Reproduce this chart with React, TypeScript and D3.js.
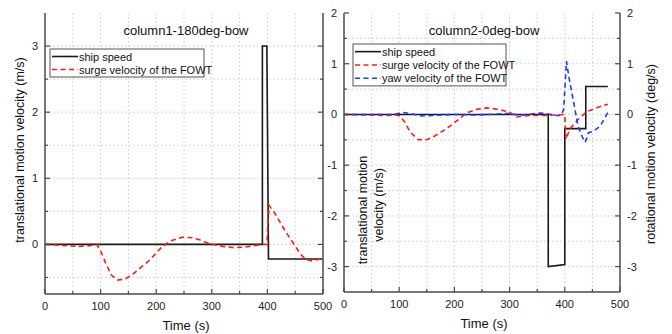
import React from 'react';
import * as d3 from 'd3';

// time axis
const timeMajor = [0, 100, 200, 300, 400, 500];
const timeMinor = [50, 150, 250, 350, 450];

// column1-180deg-bow
const leftShipT = [0, 391, 391, 399, 402, 500];
const leftShipV = [0, 0, 3, 3, -0.22, -0.22];
const leftSurgeT = [0, 20, 40, 60, 80, 93, 100, 110, 120, 131, 145, 158, 175, 188, 200, 209, 225, 248, 265, 278, 290, 302, 320, 340, 360, 375, 390, 399, 403, 415, 428, 440, 452, 462, 470, 480, 490, 500];
const leftSurgeV = [0, -0.01, -0.02, -0.03, -0.02, 0, -0.1, -0.3, -0.47, -0.54, -0.52, -0.45, -0.33, -0.24, -0.13, -0.05, 0.05, 0.11, 0.1, 0.07, 0.03, 0, -0.03, -0.05, -0.04, -0.02, 0, 0, 0.59, 0.45, 0.26, 0.1, -0.05, -0.17, -0.23, -0.25, -0.23, -0.2];
const leftMajor = [0, 1, 2, 3];
const leftMinor = [-0.5, 0.5, 1.5, 2.5, 3.5];

// column2-0deg-bow
const rightShipT = [0, 370, 370, 400, 400, 438, 438, 478];
const rightShipV = [0, 0, -3, -2.96, -0.28, -0.28, 0.55, 0.55];
const rightSurgeT = [0, 40, 80, 95, 101, 110, 120, 135, 150, 165, 180, 192, 205, 222, 240, 258, 280, 301, 313, 325, 336, 350, 363, 380, 397, 400, 402, 409, 416, 424, 432, 440, 450, 458, 468, 478];
const rightSurgeV = [0, -0.01, -0.02, -0.01, -0.03, -0.15, -0.35, -0.5, -0.5, -0.42, -0.32, -0.23, -0.12, 0.03, 0.1, 0.13, 0.1, 0.04, -0.05, -0.03, -0.02, -0.02, -0.02, -0.01, 0, 0, -0.49, -0.29, -0.2, -0.1, -0.02, 0.06, 0.1, 0.13, 0.17, 0.2];
const rightYawT = [0, 50, 90, 106, 120, 140, 160, 200, 240, 280, 300, 320, 340, 355, 370, 385, 393, 398, 403, 408, 415, 424, 432, 437, 443, 452, 464, 471, 479];
const rightYawV = [0, 0, 0, 0.04, 0.02, -0.03, -0.02, 0, -0.01, 0.01, 0.02, -0.02, 0.01, 0.03, 0.01, -0.02, -0.02, 0.1, 1.05, 0.7, 0.3, -0.23, -0.45, -0.55, -0.36, -0.33, -0.23, -0.1, 0.06];
const rightMajor = [-3, -2, -1, 0, 1, 2];
const rightMinor = [-3.5, -2.5, -1.5, -0.5, 0.5, 1.5];

const FONT = '"Liberation Sans", Arial, sans-serif';
const AXIS = '#4a4a4a';
const GRID = '#d8d8d8';

type Series = { t: number[]; v: number[]; color: string; dash?: string; label: string };

interface PanelProps {
  left: number;
  right: number;
  top: number;
  bottom: number;
  domain: [number, number];
  major: number[];
  minor: number[];
  rightLabels: boolean;
  title: string;
  series: Series[];
  legend: { x: number; y: number; w: number; row: number };
}

const toPts = (t: number[], v: number[]) => t.map((d, i) => [d, v[i]] as [number, number]);

const Panel: React.FC<PanelProps> = ({ left, right, top, bottom, domain, major, minor, rightLabels, title, series, legend }) => {
  const x = d3.scaleLinear().domain([0, 500]).range([left, right]);
  const y = d3.scaleLinear().domain(domain).range([bottom, top]);
  const line = d3.line<[number, number]>().x(d => x(d[0])).y(d => y(d[1]));
  const gridY = [...major, ...minor].filter(v => v > domain[0] && v < domain[1]);

  return (
    <g>
      {/* grid */}
      {[...timeMajor, ...timeMinor].filter(t => t > 0 && t < 500).map(t => (
        <line key={'gx' + t} x1={x(t)} x2={x(t)} y1={top} y2={bottom} stroke={GRID} strokeDasharray="2,2" />
      ))}
      {gridY.map(v => (
        <line key={'gy' + v} x1={left} x2={right} y1={y(v)} y2={y(v)} stroke={GRID} strokeDasharray="2,2" />
      ))}

      {/* data */}
      {series.map(s => (
        <path key={s.label} d={line(toPts(s.t, s.v)) ?? ''} fill="none" stroke={s.color}
          strokeWidth={1.6} strokeDasharray={s.dash} />
      ))}

      {/* axes */}
      <line x1={left} x2={left} y1={top} y2={bottom} stroke={AXIS} strokeWidth={1.5} />
      <line x1={right} x2={right} y1={top} y2={bottom} stroke={AXIS} strokeWidth={1.5} />
      <line x1={left} x2={right} y1={bottom} y2={bottom} stroke={AXIS} strokeWidth={1.5} />

      {timeMajor.map(t => (
        <g key={'tx' + t}>
          <line x1={x(t)} x2={x(t)} y1={bottom} y2={bottom - 5} stroke={AXIS} strokeWidth={1.2} />
          <text x={x(t)} y={bottom + 16} textAnchor="middle" fontSize={11} fill="#222">{t}</text>
        </g>
      ))}
      {timeMinor.map(t => (
        <line key={'tm' + t} x1={x(t)} x2={x(t)} y1={bottom} y2={bottom - 3} stroke={AXIS} strokeWidth={1.2} />
      ))}

      {major.map(v => (
        <g key={'ty' + v}>
          <line x1={left} x2={left + 5} y1={y(v)} y2={y(v)} stroke={AXIS} strokeWidth={1.2} />
          <line x1={right} x2={right - 5} y1={y(v)} y2={y(v)} stroke={AXIS} strokeWidth={1.2} />
          <text x={left - 7} y={y(v) + 4} textAnchor="end" fontSize={11} fill="#222">{v}</text>
          {rightLabels && (
            <text x={right + 7} y={y(v) + 4} textAnchor="start" fontSize={11} fill="#222">{v}</text>
          )}
        </g>
      ))}
      {minor.filter(v => v > domain[0] && v < domain[1]).map(v => (
        <g key={'my' + v}>
          <line x1={left} x2={left + 3} y1={y(v)} y2={y(v)} stroke={AXIS} strokeWidth={1.2} />
          <line x1={right} x2={right - 3} y1={y(v)} y2={y(v)} stroke={AXIS} strokeWidth={1.2} />
        </g>
      ))}

      <text x={(left + right) / 2 + 2} y={top + 22} textAnchor="middle" fontSize={13} fill="#111">{title}</text>
      <text x={(left + right) / 2 + 2} y={bottom + 36} textAnchor="middle" fontSize={13} fill="#111">Time (s)</text>

      {/* legend */}
      <rect x={legend.x} y={legend.y} width={legend.w} height={series.length * legend.row + 2}
        fill="white" stroke="#555" strokeWidth={1} />
      {series.map((s, i) => {
        const ly = legend.y + legend.row * i + legend.row / 2 + 1;
        return (
          <g key={'lg' + s.label}>
            <line x1={legend.x + 2} x2={legend.x + 28} y1={ly} y2={ly} stroke={s.color}
              strokeWidth={1.6} strokeDasharray={s.dash} />
            <text x={legend.x + 29} y={ly + 4} fontSize={11} fill="#111">{s.label}</text>
          </g>
        );
      })}
    </g>
  );
};

export default function App() {
  return (
    <svg width={672} height={334} style={{ position: 'absolute', left: 0, top: 0, background: 'white' }}
      fontFamily={FONT}>
      <rect width={672} height={334} fill="white" />
      <Panel left={45} right={323} top={13} bottom={294} domain={[-0.75, 3.5]}
        major={leftMajor} minor={leftMinor} rightLabels={false} title="column1-180deg-bow"
        legend={{ x: 50, y: 49, w: 154, row: 13 }}
        series={[
          { t: leftShipT, v: leftShipV, color: '#1a1a1a', label: 'ship speed' },
          { t: leftSurgeT, v: leftSurgeV, color: '#ff1a1a', dash: '5,3.5', label: 'surge velocity of the FOWT' },
        ]} />
      <Panel left={344} right={620} top={13} bottom={292} domain={[-3.5, 2]}
        major={rightMajor} minor={rightMinor} rightLabels={true} title="column2-0deg-bow"
        legend={{ x: 353, y: 44, w: 153, row: 13.3 }}
        series={[
          { t: rightShipT, v: rightShipV, color: '#1a1a1a', label: 'ship speed' },
          { t: rightSurgeT, v: rightSurgeV, color: '#ff1a1a', dash: '5,3.5', label: 'surge velocity of the FOWT' },
          { t: rightYawT, v: rightYawV, color: '#1a3cff', dash: '5,3.5', label: 'yaw velocity of the FOWT' },
        ]} />

      <text transform="translate(24,150) rotate(-90)" textAnchor="middle" fontSize={12.5} fill="#111">
        translational motion velocity (m/s)
      </text>
      <text transform="translate(367,210) rotate(-90)" textAnchor="middle" fontSize={12.5} fill="#111">
        translational motion
      </text>
      <text transform="translate(383,205) rotate(-90)" textAnchor="middle" fontSize={12.5} fill="#111">
        velocity (m/s)
      </text>
      <text transform="translate(655,154) rotate(-90)" textAnchor="middle" fontSize={12.5} fill="#111">
        rotational motion velocity (deg/s)
      </text>
    </svg>
  );
}
